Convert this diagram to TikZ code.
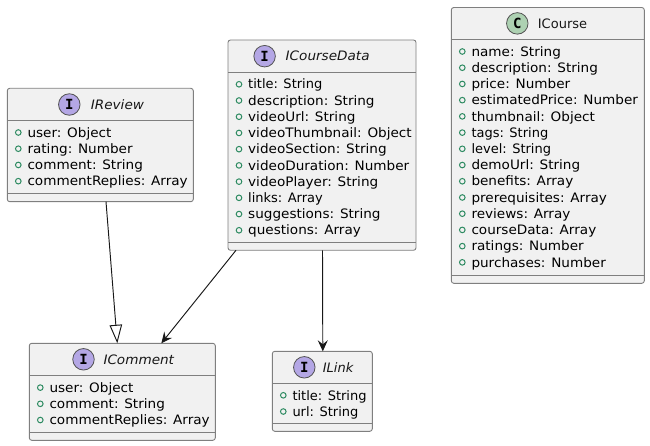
\documentclass[tikz,border=0pt]{standalone}
\usepackage{fontspec}
\setmainfont{DejaVu Sans}
\newfontfamily\glyphfont{DejaVu Sans Mono}
\newfontfamily\widefont[FakeStretch=1.045,ItalicFont={DejaVu Sans Oblique},ItalicFeatures={FakeStretch=1.045}]{DejaVu Sans}
\newcommand{\nw}[1]{{\rmfamily #1}}
\usetikzlibrary{arrows.meta,calc}
\definecolor{boxfill}{HTML}{F1F1F1}
\definecolor{boxline}{HTML}{7F7F7F}
\definecolor{ink}{HTML}{181818}
\definecolor{ifacecol}{HTML}{B4A7E5}
\definecolor{classcol}{HTML}{ADD1B2}
\definecolor{membercol}{HTML}{2E8B62}
\tikzset{
  umlbox/.style={draw=boxline,fill=boxfill,line width=0.9pt,rounded corners=2.5pt,inner sep=0pt,outer sep=0pt},
  sepline/.style={draw=boxline,line width=0.9pt},
  badge/.style={circle,draw=ink!75,line width=0.8pt,minimum size=21.5pt,inner sep=0pt,font=\glyphfont\bfseries\fontsize{14}{14}\selectfont},
  titletext/.style={anchor=west,inner sep=0pt,font=\widefont\fontsize{13}{16}\selectfont,text=ink},
  membertext/.style={anchor=base west,inner sep=0pt,font=\widefont\fontsize{13}{16}\selectfont,text=black},
  memberdot/.style={circle,draw=membercol,line width=1pt,minimum size=5.6pt,inner sep=0pt},
  conn/.style={draw=ink,line width=0.95pt},
  openhead/.style={-{Triangle[open,length=18.5pt,width=12.5pt,fill=white]}},
  barbhead/.style={-{Stealth[length=11pt,width=10pt,inset=4pt]}}
}
% name, left, top, right, headerline, lowerline, bottom, first row centre, badge x, title x, glyph, colour, title, members
\newcommand{\umlclass}[9]{%
  \node[umlbox,minimum width={(#4-#2)*1pt},minimum height={(#7-#3)*1pt}] (#1) at ({(#2+#4)/2},{-(#3+#7)/2}) {};
  \draw[sepline] (#1.west |- 0,-#5) -- (#1.east |- 0,-#5);
  \draw[sepline] (#1.west |- 0,-#6) -- (#1.east |- 0,-#6);
  \def\rowtop{#8}\def\badgex{#9}\umlrest{#1}{#2}{#3}{#5}%
}
\newcommand{\umlrest}[8]{%
  \node[badge,fill=#7] (#1badge) at (\badgex,{-(#3+#4)/2}) {#6};
  \node[titletext] (#1title) at (#5,{-(#3+#4)/2}) {#8};
  \umlmembers{#1}{#2}%
}
\newcommand{\umlmembers}[3]{%
  \foreach \mem [count=\k] in {#3} {
    \node[memberdot] (#1dot\k) at ({#2+11},{-(\rowtop+16.22*(\k-1))}) {};
    \node[membertext] (#1mem\k) at ({#2+20},{-(\rowtop+16.22*(\k-1)+4.7)}) {\mem};
  }%
}
\begin{document}
\begin{tikzpicture}[x=1pt,y=1pt]
\useasboundingbox (0,0) rectangle (650,-446);

\umlclass{IReview}{7.3}{88.3}{193.3}{120.7}{193.3}{201.7}{132.5}{69.3}{90.7}{I}{ifacecol}{\itshape IReview}{user: Object,rating: Number,comment: String,commentReplies: Array}

\umlclass{ICourseData}{228}{40}{416}{72.4}{242}{250.3}{84.3}{264.6}{285.5}{I}{ifacecol}{\itshape ICourseData}{\nw{title: String},description: String,videoUrl: String,videoThumbnail: Object,videoSection: String,videoDuration: Number,videoPlayer: String,\nw{links: Array},suggestions: String,questions: Array}

\umlclass{ICourse}{451.3}{7.5}{644.3}{39.3}{275}{283.3}{51.5}{517.3}{537.7}{C}{classcol}{\nw{ICourse}}{name: String,description: String,price: Number,estimatedPrice: Number,thumbnail: Object,\nw{tags: String},\nw{level: String},demoUrl: String,benefits: Array,prerequisites: Array,reviews: Array,courseData: Array,ratings: Number,purchases: Number}

\umlclass{IComment}{29.3}{343.3}{215.3}{375.3}{432.7}{440.3}{387.6}{83.5}{103.3}{I}{ifacecol}{\itshape IComment}{user: Object,comment: String,commentReplies: Array}

\umlclass{ILink}{272.3}{351.3}{372.3}{383.3}{423.3}{431.3}{395.3}{304.3}{322.7}{I}{ifacecol}{\itshape\nw{ILink}}{\nw{title: String},\nw{url: String}}

\draw[conn,openhead] ([xshift=5.7pt]IReview.south) -- ([xshift=-5pt]IComment.north);
\draw[conn,barbhead] ([xshift=-86pt]ICourseData.south) -- ([xshift=39pt]IComment.north);
\draw[conn,barbhead] ([xshift=0.5pt]ICourseData.south) -- ([xshift=0.5pt]ILink.north);
\end{tikzpicture}
\end{document}
